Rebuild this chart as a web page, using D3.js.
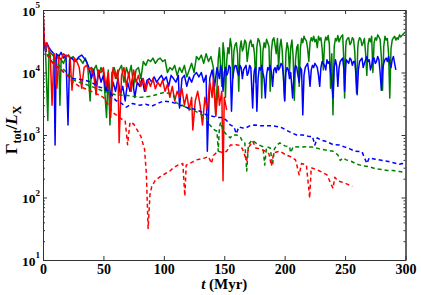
<!DOCTYPE html>
<html>
<head>
<meta charset="utf-8">
<script src="https://cdn.jsdelivr.net/npm/d3@7"></script>
<style>
body { margin: 0; background: #fff; }
svg { display: block; }
.lbl { font-family: "Liberation Serif", serif; font-weight: bold; fill: #000; }
</style>
</head>
<body>
<svg id="chart" width="421" height="295"></svg>
<script>
// axis ticks
const xTicks = [0, 50, 100, 150, 200, 250, 300];
const yTicks = [1e1, 1e2, 1e3, 1e4, 1e5];
const yExp = ["1", "2", "3", "4", "5"];

// series: [t (Myr), Gamma_tot / L_X]
const greenSolid = [[0,5e4],[1,3e4],[2,2.5e4],[4,1.7e3],[5,2.2e4],[7,2e4],[9,1.8e4],[11,1.6e4],[13,1.9e4],[14,3e3],[15,1.6e4],[17,1.4e4],[19,1.8e4],[21,1.9e4],[23,1.7e4],[25,1.8e4],[27,1.5e4],[29,1.7e4],[31,1.6e4],[33,1.4e4],[35,1.7e4],[37,1.3e4],[39,3.5e3],[40,1.2e4],[42,1.1e4],[44,1.3e4],[46,9e3],[48,1.2e4],[50,1e4],[52.6,1.9e3],[54,1.1e4],[55.4,1.45e3],[57,1e4],[59,1.2e4],[61,8e3],[63,1.1e4],[65,1.3e4],[67,7e3],[69,1.2e4],[71,9e3],[73,1.3e4],[75,6e3],[77,1.1e4],[79,1.2e4],[81,8e3],[83,1.5e4],[85,1.3e4],[87,1.6e4],[89,1.5e4],[91,1.7e4],[93,1.4e4],[95,1.6e4],[97,1.7e4],[99,1.5e4],[101,1.6e4],[103,1e4],[105,1.2e4],[107,1.1e4],[109,1.3e4],[111,9e3],[113,1.2e4],[115,1e4],[117,1.3e4],[119,8.5e3],[121,1.1e4],[123,1.4e4],[125,1e4],[127,1.8e4],[129,1.6e4],[131,1.9e4],[133,1.4e4],[135,2e4],[137,1.5e4],[139,1.8e4],[141,1.2e4],[143,2.1e3],[145,1.6e4],
  [146,2.5e4],[147,1.2e4],[148,6e3],[149,3e4],[150,2e4],[151,4e3],[152,1.5e4],[153,2.5e4],[154,2e4],[155,3.5e4],[156,2.6e4],[157,8e3],[158,2.2e4],[159,2.8e4],[160,3e4],[161,2e4],[162,5e3],[163,2.4e4],[164,3.2e4],[165,2.2e4],[166,2.5e4],[167,3.3e4],[168,3e4],[169,1.5e4],[170,2.2e4],[171,3e4],[172,3.3e4],[173,2.6e4],[174,2.8e4],[175,2e4],[176,7e3],[177,2.6e4],[178,3.5e4],[179,3.2e4],[180,2.5e4],[181,3.9e3],[182,2.2e4],[183,3e4],[184,2.5e4],[185,3.4e4],[186,3e4],[187,2.6e4],[188,5e3],[189,2.2e4],[190,3.3e4],[191,3.6e4],[192,2.8e4],[193,2e4],[194,3.5e4],[195,1.2e4],[196,2.6e4],[197,3.4e4],[198,2.2e4],[199,8e3],[200,3.6e3],[201,2e4],[202,3e4],[203,2.4e4],[204,1e4],[205,2.5e4],[206,3.3e4],[207,1.8e4],[208,3.6e3],[209,1.6e4],[210,2.5e4],[211,2.8e4],[212,6e3],[213,2.4e4],[214,3.5e4],[215,3e4],[216,3.8e4],[217,3.4e4],[218,3.2e4],[219,2.4e4],[220,1.5e4],[221,3e4],[222,3.6e4],[223,3.2e4],[224,3.8e4],[225,3.1e4],[226,3.4e4],[227,2.5e4],[228,3.8e4],[229,3.3e4],[230,3.6e4],[231,2.4e4],[232,1.1e4],[233,3e4],[234,3.7e4],[235,3.3e4],[236,3.9e4],[237,2.8e4],[238,5.6e3],[239,2e4],[240,2.1e3],[241,2.6e4],[242,3.5e4],[243,3.2e4],[244,3.9e4],[245,3.1e4],[246,3.5e4],[247,3.8e4],[248,4e4],[249,1.5e4],[249.6,3.9e3],[250.5,2.5e4],[251,3.2e4],[252,3.5e4],[253,3.6e4],[254,2.8e4],[255,3e4],[256,3.6e4],[257,3.4e4],[258,2.2e4],[259.5,4.7e3],[260.5,2.5e4],[261,3.1e4],[262,3.6e4],[263,3.4e4],[264,2.7e4],[265,3e4],[266,3.5e4],[267,2e4],[268,9e3],[269,2.8e4],[270,3.5e4],[271,3.1e4],[272,3.8e4],[273,1e4],[274,3e4],[275,3.6e4],[276,3.3e4],[277,4e4],[278,3.7e4],[279,3.4e4],[280,1.8e4],[281,5.2e3],[282,2.6e4],[283,3.8e4],[284,3.3e4],[285,3.5e4],[286,2e4],[287,3.9e3],[288,2.4e4],[289,3.3e4],[290,3.6e4],[291,3.8e4],[292,3.3e4],[293,3.6e4],[294,3.4e4],[295,4e4],[296,3.7e4],[297,3.9e4],[298,4.1e4],[299,4.3e4],[300,4.5e4]];

const blueSolid = [[0,4e4],[1,3e4],[2,2.2e4],[3,3e4],[5,2.5e4],[7,2.2e4],[9,2e4],[10,690],[11,2e4],[13,1.8e4],[15,2.1e4],[17,1.7e4],[19,1.9e4],[20.7,1.45e3],[22,1.6e4],[24,1.7e4],[26,1.5e4],[28,1.6e4],[30,1.8e4],[32,1.9e4],[34,1.7e4],[36,1.5e4],[38,1.2e4],[40,8e3],[42,1.1e4],[44,6e3],[46,1e4],[48,7e3],[50,9e3],[52,5e3],[54,8e3],[56,4e3],[58,7e3],[60,5e3],[62,8e3],[64,4.5e3],[66,6e3],[68,3.5e3],[70,7e3],[72,5e3],[74,8e3],[76,4e3],[78,7e3],[80,6e3],[82,8e3],[84,5e3],[86,7.5e3],[88,8e3],[90,7e3],[92,8.5e3],[94,7e3],[96,8e3],[98,9e3],[100,7.5e3],[102,8.5e3],[104,6e3],[106,9e3],[108,8e3],[110,7e3],[112,9e3],[113,2.7e3],[115,8e3],[117,9e3],[119,6e3],[121,8.5e3],[123,7e3],[125,9e3],[127,1e4],[129,8.5e3],[131,1e4],[133,7e3],[135,9e3],[136,550],[138,8e3],[140,1.1e4],[142,6e3],[144,1.2e4],
  [146,8e3],[147,1.3e4],[148,1.1e4],[149,5e3],[150,1e4],[151,1.2e4],[152,9e3],[153,1e4],[154,1.3e4],[155,1.2e4],[156,2.4e3],[157,8e3],[158,1.1e4],[159,1.3e4],[160,1.27e4],[161,1e4],[162,9e3],[163,1.3e4],[164,1.2e4],[165,8e3],[166,1.1e4],[167,1.2e4],[168,1.3e4],[169,9e3],[170,1e4],[171,1.3e4],[172,1.2e4],[173.5,2.7e3],[174.5,9e3],[175,1.1e4],[176,1.2e4],[177,2.4e3],[178,8e3],[179,1.2e4],[180,1.1e4],[181,1.3e4],[182,1e4],[183,8e3],[184,3.9e3],[185,9e3],[186,1.2e4],[187,1.1e4],[188,1.3e4],[189,1e4],[190,6e3],[191,1.1e4],[192,1.2e4],[193,1e4],[194,1.3e4],[195,1.1e4],[196,1.2e4],[197,1.4e4],[198,1.3e4],[199,9e3],[200,3.5e3],[201,1e4],[202,1.2e4],[203,1.1e4],[204,8e3],[205,1e4],[206.6,3.9e3],[207.5,8e3],[208,1e4],[209,1.3e4],[210,1.2e4],[211,9e3],[212,7e3],[213,1.2e4],[214,1.1e4],[215,2.1e3],[216,9e3],[217,1.2e4],[218,1.3e4],[219,1.4e4],[220,1e4],[221,6e3],[222,1.1e4],[223,1.3e4],[224,1.2e4],[225,1.4e4],[226,1.3e4],[227,1.2e4],[228,9e3],[229,6e3],[230,1.2e4],[231,1.5e4],[232,1.4e4],[233,1.3e4],[234,1.1e4],[235,1.6e4],[236,1.4e4],[237,1.5e4],[238,1e4],[239,7e3],[240,3.9e3],[241,1.2e4],[242,1.6e4],[243,1.3e4],[244,6e3],[245,1.2e4],[246,1.5e4],[247,1.6e4],[248,1.7e4],[249,1.1e4],[249.6,5e3],[250.5,1.2e4],[251,1.6e4],[252,1.5e4],[253,1.4e4],[254,1.7e4],[255,1.6e4],[256,1.3e4],[257,1.5e4],[258,1.5e4],[259,1e4],[260,4.4e3],[261,1.1e4],[262,1.5e4],[263,1.6e4],[264,1.7e4],[265,1.2e4],[266,1.4e4],[267,1.6e4],[268,1.8e4],[269,1.5e4],[270,1.6e4],[271,1.1e4],[272,1.3e4],[273,1.7e4],[274,1.7e4],[275,1.4e4],[276,1.5e4],[277,1.8e4],[278,1.6e4],[279,1e4],[280,5.2e3],[281,1.1e4],[282,1.4e4],[283,1.6e4],[284,1.7e4],[285,1.5e4],[286,1.8e4],[287,1.4e4],[288,1.2e4],[289,1.6e4],[290,1.8e4],[291,1.4e4],[292,1.1e4]];

const redSolid = [[0,1e5],[0.5,7e4],[1,3.5e4],[2,2.5e4],[3,3e4],[5,2.3e4],[6,1.9e4],[7.5,3e3],[9,2e4],[10,1.7e4],[11.5,5.6e3],[13,1.8e4],[15,1.6e4],[17,2e4],[19,1.8e4],[21,1.9e4],[22.5,1.6e4],[24,5.2e3],[26,1.7e4],[28,1.5e4],[30,1.2e4],[32,5.6e3],[34,1.2e4],[36,1.3e4],[38,1.1e4],[40,1.2e4],[42,9e3],[44,4.4e3],[46,1.1e4],[48,1e4],[50,1.2e4],[52,6e3],[54,1e4],[56,1.9e3],[58,1.2e4],[60,8e3],[62,1.1e4],[63,750],[65,9e3],[67,1.2e4],[69,6e3],[71,1e4],[73,5e3],[75,1.1e4],[77,7e3],[79,9e3],[81,6e3],[83,8e3],[85,5e3],[87,7.5e3],[89,6e3],[91,8e3],[93,5.5e3],[95,7e3],[97,6e3],[99,7.6e3],[101,5e3],[103,6.5e3],[105,4e3],[107,6e3],[109,3.5e3],[111,5e3],[113,4e3],[115,5.5e3],[117,3e3],[119,4.5e3],[121,2.5e3],[123,4e3],[124,1.2e3],[126,3.5e3],[128,5e3],[130,3e3],[132,1.45e3],[134,4e3],[136,2.5e3],[138,7e3],[140,4e3],[141,8e3],[143,2e3],[145,6e3],[146,3e3],[148,5e3],[149,185],[150,4e3],[152,2.5e3]];

const greenDashed = [[0,9e4],[1,3e4],[3,2.2e4],[6,1.8e4],[10,1.5e4],[15,1.2e4],[20,1e4],[25,7.6e3],[30,7e3],[35,6.5e3],[40,6e3],[50,5e3],[60,4.4e3],[70,4.3e3],[80,4e3],[90,4.2e3],[100,4.8e3],[105,4.6e3],[108,4.4e3],[110,3.3e3],[115,3e3],[119,2.7e3],[124,2.5e3],[130,2.2e3],[135,1.9e3],[138,1.45e3],[142,1.2e3],[144,1.15e3],[145,550],[146,1.3e3],[147,1.6e3],[149,1.2e3],[152,1e3],[155,900],[157,1e3],[160,1e3],[163,950],[165,800],[167,750],[168.6,265],[170,700],[173,830],[176,750],[179,690],[182,650],[183.5,330],[185,650],[188,620],[190,330],[191.5,600],[194,700],[196,750],[200,670],[204,650],[205,520],[207,650],[212,640],[218,650],[223,640],[229,600],[235,570],[240,550],[244,480],[246,390],[248,430],[251,400],[255,380],[260,340],[265,320],[270,310],[275,290],[280,280],[285,270],[290,270],[295,260],[300,250]];

const blueDashed = [[0,9e4],[1,3e4],[3,2e4],[6,1.6e4],[10,1.3e4],[15,1.1e4],[20,9e3],[25,8e3],[30,7.8e3],[35,7.5e3],[40,7e3],[45,6e3],[50,5.6e3],[55,5e3],[60,3.6e3],[65,3.2e3],[69,2.8e3],[74,3.2e3],[80,3e3],[85,3.1e3],[90,2.9e3],[95,3.2e3],[100,3.5e3],[105,3.4e3],[110,3.2e3],[113,3e3],[116,2.9e3],[120,2.7e3],[125,2.6e3],[130,2.4e3],[135,2.1e3],[140,2e3],[145,1.9e3],[149,1.9e3],[152,1.7e3],[155,1.45e3],[158,1.35e3],[160,1.05e3],[162,1.35e3],[165,1.3e3],[168,1.3e3],[171,1.4e3],[175,1.45e3],[180,1.4e3],[185,1.4e3],[190,1.4e3],[195,1.35e3],[198,1.3e3],[201,1.2e3],[205,1.1e3],[210,1e3],[215,1e3],[220,950],[223,950],[225,690],[227,900],[230,830],[235,780],[240,700],[245,690],[250,640],[254,600],[258,550],[264,540],[268,350],[270,430],[275,410],[281,390],[285,380],[290,360],[295,340],[297,350],[300,340]];

const redDashed = [[0,9e4],[1,3e4],[3,2e4],[6,1.6e4],[10,1.3e4],[15,1.1e4],[20,9e3],[25,7e3],[30,6e3],[35,5.5e3],[40,5e3],[45,4.5e3],[50,4e3],[53,3.3e3],[56,2.6e3],[59,2.2e3],[62,2e3],[65,1.8e3],[68,1.7e3],[70,700],[72,1.6e3],[75,1.5e3],[78,1.2e3],[81,950],[84,600],[85.5,250],[87,32],[88.5,110],[90,150],[93,190],[97,215],[101,240],[105,265],[108,300],[111.6,330],[115.7,350],[117.4,105],[118.5,330],[121.5,350],[127,400],[134,430],[137,450],[139.4,350],[141,470],[145,550],[149,520],[152,550],[155,690],[160,700],[163,680],[165,600],[168.6,390],[170,620],[173.5,800],[176,620],[180,600],[184,550],[187,500],[189,320],[191,520],[196,550],[201,480],[205,450],[209,400],[212,230],[214,350],[218,330],[220.7,98],[222,300],[226,280],[229,265],[235,230],[240,140],[241.5,210],[244,185],[250,170],[256,150]];

const svg = d3.select("#chart");
const L = 43, R = 405.5, T = 10, B = 260;

const x = d3.scaleLinear().domain([0, 300]).range([L, R]);
const y = d3.scaleLog().domain([1e1, 1e5]).range([B, T]);

svg.append("clipPath").attr("id", "clip")
  .append("rect").attr("x", L).attr("y", T).attr("width", R - L).attr("height", B - T);

const line = d3.line().x(d => x(d[0])).y(d => y(d[1]));
const plot = svg.append("g").attr("clip-path", "url(#clip)");

const series = [
  [greenSolid, "#008000", null],
  [blueSolid, "#0000ff", null],
  [redSolid, "#ff0000", null],
  [greenDashed, "#008000", "4,3"],
  [blueDashed, "#0000ff", "4,3"],
  [redDashed, "#ff0000", "4,3"]
];
series.forEach(s => {
  plot.append("path").datum(s[0])
    .attr("fill", "none")
    .attr("stroke", s[1])
    .attr("stroke-width", 1.5)
    .attr("stroke-linejoin", "round")
    .attr("stroke-dasharray", s[2])
    .attr("d", line);
});

// minor log ticks
var minor = [];
yTicks.slice(0, -1).forEach(v => { for (let m = 2; m < 10; m++) minor.push(v * m); });

var styleAxis = g => {
  g.selectAll("path.domain").attr("stroke", "#333");
  g.selectAll(".tick line").attr("stroke", "#333");
};

svg.append("g").attr("transform", `translate(0,${B})`)
  .call(d3.axisBottom(x).tickValues(xTicks).tickSizeInner(-4).tickSizeOuter(0))
  .call(styleAxis)
  .call(g => g.selectAll(".tick text").attr("class", "lbl").attr("font-size", 14)
    .attr("y", 13.5).attr("dy", 0));

svg.append("g").attr("transform", `translate(0,${T})`)
  .call(d3.axisTop(x).tickValues(xTicks).tickSizeInner(-4).tickSizeOuter(0).tickFormat(""))
  .call(styleAxis);

svg.append("g").attr("transform", `translate(${L},0)`)
  .call(d3.axisLeft(y).tickValues(yTicks).tickSizeInner(-4).tickSizeOuter(0))
  .call(styleAxis)
  .call(g => g.selectAll(".tick text").each(function(d, i) {
    var t = d3.select(this).attr("class", "lbl").attr("font-size", 13.5)
      .attr("x", -3).attr("dy", "0.4em").text("10");
    t.append("tspan").attr("font-size", 9).attr("dy", -7.5).text(yExp[i]);
  }));

svg.append("g").attr("transform", `translate(${L},0)`)
  .call(d3.axisLeft(y).tickValues(minor).tickSizeInner(-2).tickSizeOuter(0).tickFormat(""))
  .call(styleAxis);

svg.append("g").attr("transform", `translate(${R},0)`)
  .call(d3.axisRight(y).tickValues(yTicks).tickSizeInner(-4).tickSizeOuter(0).tickFormat(""))
  .call(styleAxis);

svg.append("g").attr("transform", `translate(${R},0)`)
  .call(d3.axisRight(y).tickValues(minor).tickSizeInner(-2).tickSizeOuter(0).tickFormat(""))
  .call(styleAxis);

// axis labels
var xl = svg.append("text").attr("class", "lbl").attr("font-size", 15)
  .attr("x", (L + R) / 2).attr("y", 289).attr("text-anchor", "middle");
xl.append("tspan").attr("font-style", "italic").text("t");
xl.append("tspan").text(" (Myr)");

var yl = svg.append("text").attr("class", "lbl").attr("font-size", 17)
  .attr("transform", "translate(16.5,130) rotate(-90)").attr("text-anchor", "middle");
yl.append("tspan").text("Γ");
yl.append("tspan").attr("font-size", 12).attr("dy", 4).text("tot");
yl.append("tspan").attr("dy", -4).text("/");
yl.append("tspan").attr("font-style", "italic").text("L");
yl.append("tspan").attr("font-size", 12).attr("dy", 4).text("X");
</script>
</body>
</html>
